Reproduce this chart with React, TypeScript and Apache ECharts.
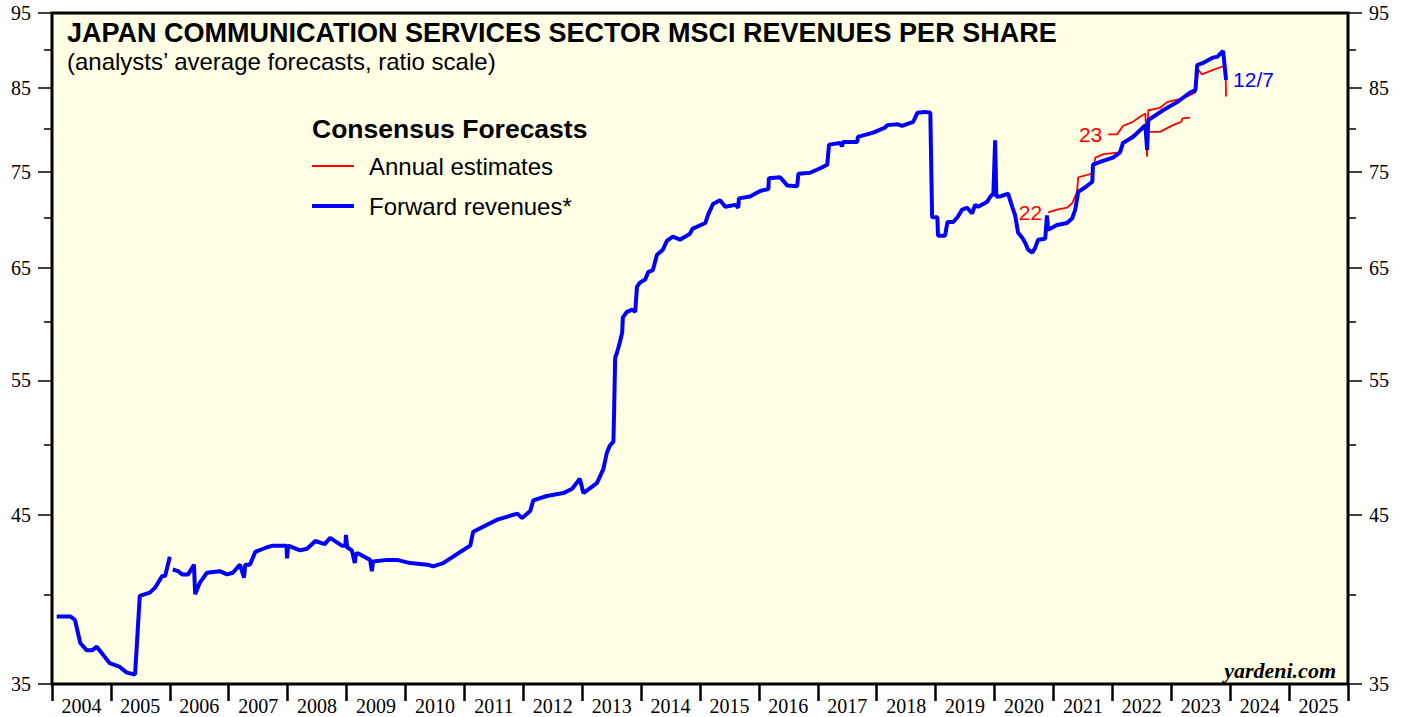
import React, { useEffect, useRef } from "react";
import * as echarts from "echarts";

const yearLabels = ["2004","2005","2006","2007","2008","2009","2010","2011","2012","2013","2014","2015","2016","2017","2018","2019","2020","2021","2022","2023","2024","2025"];
const yMajorTicks = [35, 45, 55, 65, 75, 85, 95];
const yMinorTicks = [40, 50, 60, 70, 80, 90];

const forwardRevenues: [number, number | null][] = [
  [2004.08, 38.7], [2004.31, 38.7], [2004.39, 38.5], [2004.48, 37.2], [2004.59, 36.8], [2004.68, 36.8],
  [2004.76, 37.0], [2004.98, 36.1], [2005.15, 35.9], [2005.27, 35.6], [2005.41, 35.5], [2005.49, 39.9],
  [2005.66, 40.1], [2005.75, 40.4], [2005.87, 41.1], [2005.92, 41.1], [2006.0, 42.3], [2006.02, null],
  [2006.05, 41.5], [2006.14, 41.4], [2006.21, 41.2], [2006.31, 41.2], [2006.41, 41.8], [2006.43, 40.0],
  [2006.51, 40.7], [2006.63, 41.3], [2006.85, 41.4], [2006.97, 41.2], [2007.07, 41.3], [2007.19, 41.8],
  [2007.26, 41.0], [2007.28, 41.8], [2007.36, 41.8], [2007.45, 42.6], [2007.65, 42.9], [2007.75, 43.0],
  [2007.98, 43.0], [2007.99, 42.2], [2008.01, 43.0], [2008.21, 42.7], [2008.33, 42.8], [2008.47, 43.3],
  [2008.63, 43.1], [2008.72, 43.5], [2008.92, 43.0], [2008.98, 43.0], [2008.99, 43.7], [2009.01, 42.9],
  [2009.09, 42.7], [2009.14, 41.9], [2009.16, 42.5], [2009.2, 42.5], [2009.4, 42.1], [2009.43, 41.4],
  [2009.45, 42.0], [2009.69, 42.1], [2009.86, 42.1], [2010.08, 41.9], [2010.37, 41.8], [2010.47, 41.7],
  [2010.64, 41.9], [2010.93, 42.6], [2011.1, 43.0], [2011.15, 43.9], [2011.56, 44.7], [2011.9, 45.1],
  [2011.98, 44.8], [2012.12, 45.3], [2012.17, 46.0], [2012.4, 46.3], [2012.68, 46.5], [2012.83, 46.8],
  [2012.96, 47.5], [2013.02, 46.5], [2013.25, 47.2], [2013.36, 48.2], [2013.42, 49.4], [2013.47, 49.9],
  [2013.53, 50.2], [2013.54, 52.1], [2013.56, 56.9], [2013.59, 57.3], [2013.64, 58.2], [2013.68, 59.1],
  [2013.69, 60.4], [2013.76, 60.9], [2013.85, 61.1], [2013.9, 60.9], [2013.93, 63.2], [2013.98, 63.6],
  [2014.07, 63.9], [2014.12, 64.6], [2014.2, 64.8], [2014.27, 66.3], [2014.37, 66.8], [2014.44, 67.7],
  [2014.54, 68.1], [2014.66, 67.8], [2014.83, 68.4], [2014.87, 68.9], [2015.09, 69.5], [2015.14, 70.4],
  [2015.22, 71.5], [2015.34, 71.9], [2015.43, 71.2], [2015.6, 71.4], [2015.65, 71.1], [2015.66, 72.1],
  [2015.85, 72.3], [2016.02, 72.9], [2016.16, 73.1], [2016.17, 74.3], [2016.36, 74.4], [2016.48, 73.5],
  [2016.65, 73.4], [2016.67, 74.8], [2016.87, 74.9], [2017.04, 75.4], [2017.16, 75.8], [2017.19, 78.1],
  [2017.38, 78.3], [2017.41, 77.9], [2017.43, 78.4], [2017.67, 78.4], [2017.68, 79.0], [2017.94, 79.5],
  [2018.14, 80.1], [2018.18, 80.4], [2018.36, 80.5], [2018.43, 80.3], [2018.62, 80.8], [2018.69, 81.9],
  [2018.82, 82.0], [2018.91, 81.9], [2018.94, 70.1], [2019.03, 70.1], [2019.04, 68.2], [2019.16, 68.2],
  [2019.2, 69.6], [2019.3, 69.6], [2019.37, 70.1], [2019.45, 70.9], [2019.53, 71.1], [2019.62, 70.5],
  [2019.67, 71.4], [2019.72, 71.2], [2019.87, 71.7], [2019.93, 72.3], [2019.98, 72.6], [2020.01, 78.6],
  [2020.03, 72.3], [2020.1, 72.3], [2020.23, 72.6], [2020.3, 71.2], [2020.35, 70.3], [2020.4, 68.5],
  [2020.47, 68.0], [2020.52, 67.5], [2020.57, 66.8], [2020.64, 66.5], [2020.69, 67.0], [2020.74, 67.8],
  [2020.86, 67.9], [2020.89, 70.3], [2020.91, 68.8], [2021.06, 69.3], [2021.23, 69.5], [2021.32, 70.0],
  [2021.37, 70.9], [2021.42, 72.8], [2021.54, 73.3], [2021.66, 73.9], [2021.67, 75.8], [2021.83, 76.2],
  [2022.01, 76.6], [2022.13, 77.2], [2022.18, 78.3], [2022.35, 79.0], [2022.56, 80.4], [2022.59, 77.5],
  [2022.61, 81.0], [2022.86, 82.2], [2023.1, 83.2], [2023.32, 84.4], [2023.41, 84.7], [2023.44, 87.9],
  [2023.54, 88.2], [2023.71, 88.9], [2023.78, 89.0], [2023.88, 89.8], [2023.93, 86.0],
];

const annual2022: [number, number][] = [
  [2020.91, 70.6], [2021.06, 70.9], [2021.23, 71.1], [2021.32, 71.6], [2021.4, 72.8], [2021.42, 74.4],
  [2021.66, 74.8], [2021.71, 76.6], [2021.85, 77.0], [2022.13, 77.2], [2022.18, 78.3], [2022.35, 79.2],
  [2022.56, 80.1], [2022.59, 79.6], [2022.81, 79.6], [2023.03, 80.4], [2023.17, 80.8], [2023.19, 81.2],
  [2023.32, 81.3],
];

const annual2023: [number, number][] = [
  [2021.93, 79.3], [2022.08, 79.3], [2022.13, 79.8], [2022.18, 80.3], [2022.35, 80.8], [2022.47, 81.4],
  [2022.56, 81.8], [2022.59, 76.7], [2022.61, 82.2], [2022.81, 82.5], [2022.93, 83.2], [2023.15, 83.6],
  [2023.27, 83.9], [2023.41, 84.4], [2023.46, 87.3], [2023.52, 86.7], [2023.71, 87.3], [2023.86, 87.7],
  [2023.92, 87.7], [2023.93, 83.9],
];

const RED = "#ff0000";
const BLUE = "#0000ff";
const SANS = "Liberation Sans, Arial, sans-serif";
const SERIF = "Liberation Serif, Times New Roman, serif";

function yAxisDef(position: "left" | "right", values: number[], tickLen: number, showLabels: boolean) {
  return {
    type: "log",
    position,
    min: 35,
    max: 95,
    logBase: 10,
    axisLine: { show: false },
    splitLine: { show: false },
    minorTick: { show: false },
    axisTick: { show: true, customValues: values, length: tickLen, inside: false, lineStyle: { color: "#000", width: 1.5 } },
    axisLabel: {
      show: showLabels,
      customValues: values,
      margin: 21,
      color: "#000",
      fontSize: 20,
      fontFamily: SERIF,
      formatter: (v: number) => String(Math.round(v)),
    },
  };
}

export default function App() {
  const ref = useRef<HTMLDivElement>(null);
  useEffect(() => {
    if (!ref.current) return;
    const chart = echarts.init(ref.current, null, { renderer: "svg" });
    const redSeries = (name: string, data: [number, number][], label: string, labelPt: [number, number]) => ({
      type: "line",
      name,
      data,
      xAxisIndex: 0,
      yAxisIndex: 0,
      symbol: "none",
      showSymbol: false,
      lineStyle: { color: RED, width: 1.8 },
      itemStyle: { color: RED },
      z: 3,
      markPoint: {
        symbol: "circle",
        symbolSize: 0,
        data: [{ coord: labelPt, value: label }],
        label: { show: true, position: "left", distance: 6, formatter: label, color: RED, fontSize: 21, fontFamily: SANS },
      },
    });
    chart.setOption({
      animation: false,
      title: {
        text: "JAPAN COMMUNICATION SERVICES SECTOR MSCI REVENUES PER SHARE",
        subtext: "(analysts\u2019 average forecasts, ratio scale)",
        left: 67,
        top: 19,
        padding: 0,
        itemGap: 3,
        textStyle: { fontSize: 27, fontWeight: "bold", fontFamily: SANS, color: "#000" },
        subtextStyle: { fontSize: 24, fontFamily: SANS, color: "#000" },
      },
      grid: {
        left: 52,
        right: 59,
        top: 13,
        bottom: 33,
        show: true,
        backgroundColor: "#ffffe5",
        borderColor: "#000",
        borderWidth: 3,
      },
      xAxis: [
        { type: "value", min: 2004, max: 2026, show: false },
        {
          type: "category",
          data: yearLabels,
          position: "bottom",
          boundaryGap: true,
          axisLine: { show: false },
          axisTick: { show: true, interval: 0, length: 17, lineStyle: { color: "#000", width: 2.5 } },
          axisLabel: { interval: 0, margin: 12, color: "#000", fontSize: 20, fontFamily: SERIF },
          splitLine: { show: false },
        },
      ],
      yAxis: [
        yAxisDef("left", yMajorTicks, 14, true),
        yAxisDef("left", yMinorTicks, 8, false),
        yAxisDef("right", yMajorTicks, 14, true),
        yAxisDef("right", yMinorTicks, 8, false),
      ],
      series: [
        redSeries("Annual estimates", annual2022, "22", annual2022[0]),
        redSeries("Annual estimates", annual2023, "23", annual2023[0]),
        {
          type: "line",
          name: "Forward revenues*",
          data: forwardRevenues,
          xAxisIndex: 0,
          yAxisIndex: 0,
          symbol: "none",
          showSymbol: false,
          connectNulls: false,
          lineStyle: { color: BLUE, width: 4 },
          itemStyle: { color: BLUE },
          z: 4,
          endLabel: { show: true, formatter: "12/7", color: BLUE, fontSize: 21, fontFamily: SANS, distance: 7 },
        },
      ],
      graphic: [
        { type: "text", x: 312, y: 129, style: { text: "Consensus Forecasts", font: `bold 26.5px ${SANS}`, fill: "#000", verticalAlign: "middle" } },
        { type: "line", shape: { x1: 312, y1: 166, x2: 354, y2: 166 }, style: { stroke: RED, lineWidth: 2 } },
        { type: "text", x: 369, y: 166, style: { text: "Annual estimates", font: `24px ${SANS}`, fill: "#000", verticalAlign: "middle" } },
        { type: "line", shape: { x1: 312, y1: 206, x2: 354, y2: 206 }, style: { stroke: BLUE, lineWidth: 4 } },
        { type: "text", x: 369, y: 206, style: { text: "Forward revenues*", font: `24px ${SANS}`, fill: "#000", verticalAlign: "middle" } },
        { type: "text", x: 1336, y: 670, style: { text: "yardeni.com", font: `italic bold 22px ${SERIF}`, fill: "#000", align: "right", verticalAlign: "middle" } },
      ],
    });
    return () => chart.dispose();
  }, []);
  return <div ref={ref} style={{ position: "absolute", left: 0, top: 0, width: 1407, height: 717 }} />;
}
